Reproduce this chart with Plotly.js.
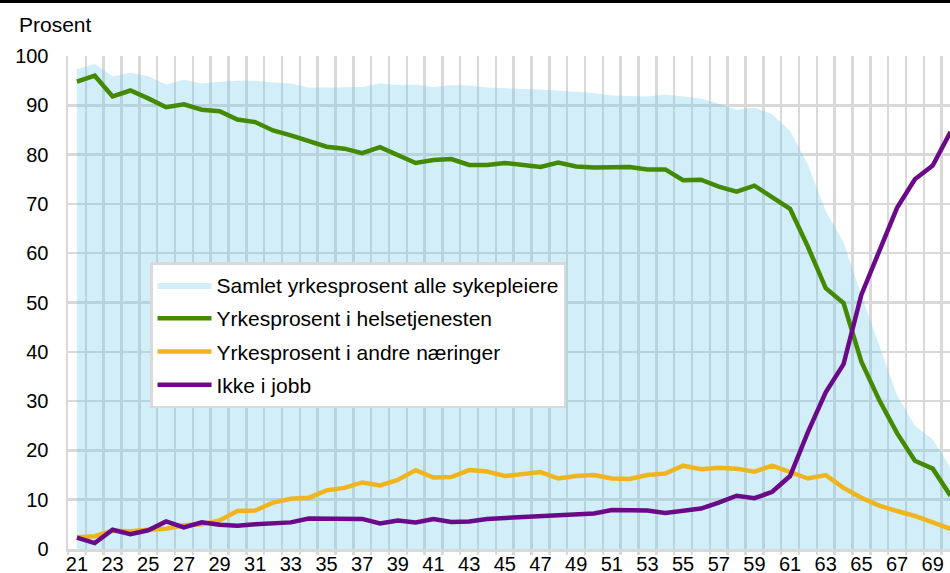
<!DOCTYPE html>
<html>
<head>
<meta charset="utf-8">
<script src="https://cdn.plot.ly/plotly-3.0.1.min.js"></script>
<style>
  html, body { margin: 0; padding: 0; overflow: hidden; background: #fff; }
  #chart { width: 950px; height: 570px; border-top: 3px solid #000; }
</style>
</head>
<body>
<div id="chart"></div>
<script>
const ages = [21,22,23,24,25,26,27,28,29,30,31,32,33,34,35,36,37,38,39,40,
              41,42,43,44,45,46,47,48,49,50,51,52,53,54,55,56,57,58,59,60,
              61,62,63,64,65,66,67,68,69,70];

const samlet = [97.3,98.4,95.9,96.6,95.9,94.2,95.2,94.4,94.8,95.0,
                95.0,94.6,94.4,93.6,93.6,93.6,93.7,94.4,94.1,94.2,
                93.7,94.1,94.0,93.6,93.4,93.3,93.2,93.0,92.7,92.5,
                92.0,91.9,91.8,92.2,91.8,91.4,90.3,89.1,89.5,88.2,
                84.8,78.0,68.5,62.2,51.4,41.4,31.2,25.0,22.2,16.5];

const helse = [94.8,96.0,91.8,93.0,91.4,89.6,90.2,89.1,88.8,87.1,
               86.6,84.9,83.9,82.8,81.6,81.2,80.3,81.5,80.0,78.3,
               78.9,79.1,77.9,77.9,78.3,77.8,77.5,78.4,77.6,77.4,
               77.4,77.5,77.0,77.0,74.8,74.9,73.5,72.5,73.7,71.3,
               69.0,61.3,52.9,49.9,38.0,30.2,23.5,17.9,16.3,10.8];

const andre = [2.4,2.6,3.7,3.6,3.9,4.1,4.8,5.0,5.8,7.7,
               7.8,9.4,10.2,10.4,11.9,12.4,13.5,12.9,14.0,16.0,
               14.5,14.6,16.0,15.7,14.8,15.3,15.6,14.3,14.8,15.0,
               14.3,14.2,15.0,15.3,16.9,16.2,16.5,16.3,15.7,16.9,
               15.5,14.3,15.0,12.4,10.4,8.8,7.7,6.7,5.4,4.1];

const ikkeJobb = [2.3,1.2,3.9,3.0,3.8,5.6,4.4,5.4,4.9,4.7,
                  5.0,5.3,5.4,6.2,6.2,6.2,6.1,5.2,5.8,5.4,
                  6.1,5.5,5.6,6.1,6.3,6.5,6.6,6.7,7.1,7.2,
                  7.9,7.9,7.8,7.3,7.7,8.2,9.4,10.8,10.3,11.6,
                  14.8,23.7,31.8,37.5,51.6,60.5,69.2,75.0,77.8,84.6];

const seriesNames = ["Samlet yrkesprosent alle sykepleiere",
                     "Yrkesprosent i helsetjenesten",
                     "Yrkesprosent i andre næringer",
                     "Ikke i jobb"];

const xTickVals = [21,23,25,27,29,31,33,35,37,39,41,43,45,47,49,51,53,55,57,59,61,63,65,67,69];
const xTickText = ["21","23","25","27","29","31","33","35","37","39","41","43","45","47","49","51","53","55","57","59","61","63","65","67","69"];
const yTickVals = [0,10,20,30,40,50,60,70,80,90,100];
const yTickText = ["0","10","20","30","40","50","60","70","80","90","100"];

const FONT = "'Liberation Sans', Arial, Helvetica, sans-serif";
const GRID = "#d9d9d9";

const traces = [
  { x: ages, y: samlet, name: seriesNames[0], type: "scatter", mode: "lines",
    fill: "tozeroy", fillcolor: "rgba(97,196,234,0.29)",
    line: { width: 0, color: "rgba(97,196,234,0.29)" }, legendgroup: "a" },
  { x: ages, y: helse, name: seriesNames[1], type: "scatter", mode: "lines",
    line: { width: 4.5, color: "#448a00" }, legendgroup: "b" },
  { x: ages, y: andre, name: seriesNames[2], type: "scatter", mode: "lines",
    line: { width: 4.5, color: "#f0b41e" }, legendgroup: "c" },
  { x: ages, y: ikkeJobb, name: seriesNames[3], type: "scatter", mode: "lines",
    line: { width: 4.5, color: "#6a0a88" }, legendgroup: "d" }
];

const layout = {
  width: 950, height: 570,
  margin: { l: 68, r: 0, t: 53, b: 24, pad: 0 },
  paper_bgcolor: "#fff", plot_bgcolor: "#fff",
  font: { family: FONT, size: 20, color: "#000" },
  showlegend: true,
  legend: {
    x: 0.093, y: 0.5816, xanchor: "left", yanchor: "top",
    bgcolor: "#fff", bordercolor: GRID, borderwidth: 2.5,
    font: { family: FONT, size: 21, color: "#000" },
    traceorder: "grouped", tracegroupgap: 3, itemwidth: 54
  },
  xaxis: {
    range: [20.5, 69.97], fixedrange: true,
    tickmode: "array", tickvals: xTickVals, ticktext: xTickText,
    showgrid: false, ticks: "", zeroline: false,
    showline: true, linecolor: GRID, linewidth: 2.5,
    ticklabelstandoff: -5,
    tickfont: { family: FONT, size: 20, color: "#000" },
    minor: { tick0: 20.5, dtick: 1, showgrid: true, gridcolor: GRID, gridwidth: 2.5,
             ticks: "outside", ticklen: 3, tickcolor: GRID, tickwidth: 2.5 }
  },
  yaxis: {
    range: [0, 100], fixedrange: true,
    tickmode: "array", tickvals: yTickVals, ticktext: yTickText,
    showgrid: true, gridcolor: GRID, gridwidth: 2.5, zeroline: false,
    showline: true, linecolor: GRID, linewidth: 2.5,
    ticks: "", ticklabelstandoff: 13,
    tickfont: { family: FONT, size: 20, color: "#000" }
  },
  annotations: [{
    text: "Prosent", xref: "paper", yref: "paper",
    x: -0.0578, y: 1.0633, xanchor: "left", yanchor: "middle",
    showarrow: false, font: { family: FONT, size: 21, color: "#000" }
  }]
};

Plotly.newPlot("chart", traces, layout, { displayModeBar: false, staticPlot: true });
</script>
</body>
</html>
